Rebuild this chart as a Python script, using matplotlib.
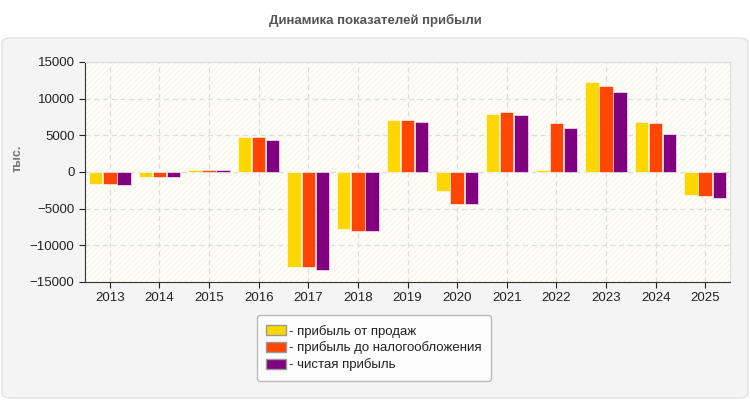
import matplotlib
matplotlib.use('Agg')
import matplotlib.pyplot as plt
import numpy as np
from matplotlib.patches import FancyBboxPatch, Rectangle, Patch

years = ['2013', '2014', '2015', '2016', '2017', '2018', '2019',
         '2020', '2021', '2022', '2023', '2024', '2025']
sales_profit = [-1600, -650, 250, 4730, -12900, -7730, 7050,
                -2550, 7860, 230, 12230, 6770, -3090]
pretax_profit = [-1600, -650, 250, 4730, -12900, -8000, 7050,
                 -4320, 8140, 6640, 11680, 6640, -3230]
net_profit = [-1750, -650, 250, 4320, -13300, -8000, 6770,
              -4320, 7730, 5950, 10860, 5140, -3500]
series_names = ['- прибыль от продаж', '- прибыль до налогообложения', '- чистая прибыль']
colors = ['#FFD700', '#FF4500', '#800080']

plt.rcParams['font.family'] = ['Liberation Sans', 'DejaVu Sans']
plt.rcParams['hatch.linewidth'] = 0.6

fig = plt.figure(figsize=[7.5, 4], dpi=100)
fig.patch.set_facecolor('white')

# outer grey panel
panel = FancyBboxPatch((2 / 750, 2 / 400), 746 / 750, 360 / 400,
                       boxstyle='round,pad=0,rounding_size=0.012',
                       transform=fig.transFigure, facecolor='#F4F4F4',
                       edgecolor='#E2E2E2', linewidth=1, zorder=-5)
fig.patches.append(panel)

fig.text(0.5, 1 - 20 / 400, 'Динамика показателей прибыли', ha='center', va='center',
         fontsize=9.5, fontweight='bold', color='#555555')

ax = fig.add_axes([85 / 750, 118 / 400, 645 / 750, 220 / 400], zorder=2)
ax.set_facecolor('#FFFFF8')
ax.add_patch(Rectangle((0, 0), 1, 1, transform=ax.transAxes, facecolor='none',
                       edgecolor='#F2F2EC', hatch='//////', linewidth=0, zorder=0))

x = np.arange(len(years))
w = 0.27
step = 0.285
for i, (vals, c) in enumerate(zip([sales_profit, pretax_profit, net_profit], colors)):
    ax.bar(x + (i - 1) * step, vals, width=w, color=c, edgecolor='white',
           linewidth=0.4, zorder=3)

ax.set_xlim(-0.5, len(years) - 0.5)
ax.set_ylim(-15000, 15000)
ax.set_yticks(np.arange(-15000, 15001, 5000))
ax.set_xticks(x)
ax.set_xticklabels(years)
ax.tick_params(labelsize=9.5, colors='#222222', length=4)
ax.grid(True, color='#DDDDDD', linestyle=(0, (4, 3)), linewidth=0.9, zorder=1)
ax.axhline(0, color='#E0E0E0', linestyle=(0, (4, 3)), linewidth=0.9, zorder=1)

ax.spines['left'].set_color('#333333')
ax.spines['bottom'].set_color('#333333')
ax.spines['top'].set_color('#DDDDDD')
ax.spines['right'].set_color('#DDDDDD')

fig.text(18 / 750, 1 - 158 / 400, 'тыс.', rotation=90, ha='center', va='center',
         fontsize=9, fontweight='bold', color='#777777')

handles = [Patch(facecolor=c, edgecolor='#999999', linewidth=1) for c in colors]
leg = fig.legend(handles, series_names, loc='center', bbox_to_anchor=(374 / 750, 1 - 348 / 400),
                 fontsize=9.5, frameon=True, fancybox=True, handlelength=1.5, handleheight=0.8,
                 handletextpad=0.2, labelspacing=0.3, borderpad=0.7, edgecolor='#AAAAAA')
leg.get_frame().set_facecolor('white')
leg.get_frame().set_linewidth(1)
leg.set_zorder(3)
for t in leg.get_texts():
    t.set_color('#222222')

fig.savefig('out.png', dpi=100)
